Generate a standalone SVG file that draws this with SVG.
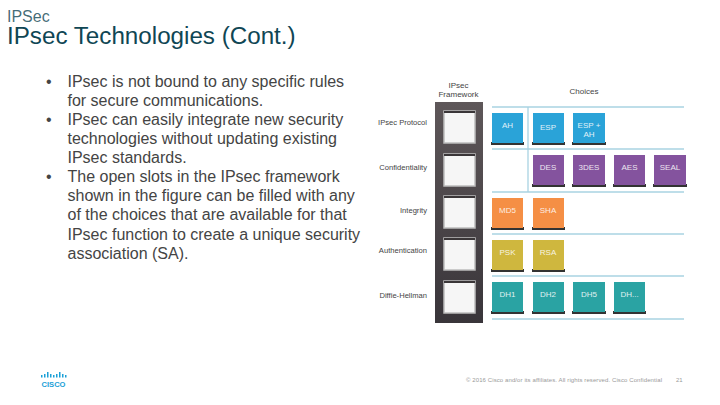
<svg xmlns="http://www.w3.org/2000/svg" width="720" height="405" viewBox="0 0 720 405">
<style>
text{font-family:"Liberation Sans",Arial,sans-serif}
.t{fill:#0f4654}
.b{font-size:16px;fill:#444}
.l{font-size:7.6px;fill:#444;text-anchor:end}
.h{font-size:8px;fill:#444;text-anchor:middle}
.c{font-size:8px;fill:#fff;text-anchor:middle;opacity:.85}
.line{stroke:#a9d3e2;stroke-width:1.3;fill:none}
.slot{fill:#f6f6f6;stroke:#bdbdbd;stroke-width:1.500}
.top{fill:#3a3638}
.sh{fill:#333}
.blue{fill:#2aa3d8}.pur{fill:#84539e}.ora{fill:#f58f45}.yel{fill:#cfb73e}.tea{fill:#2aa3a3}
.f{font-size:6px;fill:#9a9a9a}
</style>
<defs>
<linearGradient id="fw" x1="0" y1="0" x2="0" y2="1"><stop offset="0" stop-color="#5e5759"/><stop offset="1" stop-color="#39353a"/></linearGradient>
<g id="slot"><rect class="slot" x="444" y="0" width="31" height="32"/><rect class="top" x="444" y="0" width="31" height="2"/></g>
</defs>
<g id="header">
<text x="7" y="21.500" font-size="16" class="t" fill-opacity=".8">IPSec</text>
<text x="7" y="43.500" font-size="24.200" class="t">IPsec Technologies (Cont.)</text>
</g>
<g id="bullets" class="b">
<text x="46" y="87">•</text><text x="67.500" y="87">IPsec is not bound to any specific rules</text>
<text x="67.500" y="106">for secure communications.</text>
<text x="46" y="125">•</text><text x="67.500" y="125">IPsec can easily integrate new security</text>
<text x="67.500" y="144">technologies without updating existing</text>
<text x="67.500" y="163">IPsec standards.</text>
<text x="46" y="182">•</text><text x="67.500" y="182">The open slots in the IPsec framework</text>
<text x="67.500" y="201">shown in the figure can be filled with any</text>
<text x="67.500" y="220">of the choices that are available for that</text>
<text x="67.500" y="240">IPsec function to create a unique security</text>
<text x="67.500" y="259">association (SA).</text>
</g>
<g id="connectors" class="line">
<path d="M492 107H684M492 149H684M492 192H684M492 234H684M492 276H684M492 319H684M528 107V192"/>
</g>
<g id="framework">
<rect x="435" y="102" width="48" height="221" fill="url(#fw)"/>
<use href="#slot" y="111"/><use href="#slot" y="154"/><use href="#slot" y="196"/><use href="#slot" y="238"/><use href="#slot" y="281"/>
<text class="h" x="458.500" y="88">IPsec</text><text class="h" x="458.500" y="97">Framework</text>
</g>
<g id="choices-title"><text class="h" x="584" y="94">Choices</text></g>
<g id="row-labels">
<text class="l" x="427" y="125">IPsec Protocol</text>
<text class="l" x="427" y="170">Confidentiality</text>
<text class="l" x="427" y="213">Integrity</text>
<text class="l" x="427" y="253">Authentication</text>
<text class="l" x="427" y="298">Diffie-Hellman</text>
</g>
<g id="ah"><rect class="sh" x="491" y="142" width="33" height="3"/><rect class="blue" x="492" y="113" width="31" height="30"/><text class="c" x="507.500" y="128">AH</text></g>
<g id="esp"><rect class="sh" x="532" y="142" width="33" height="3"/><rect class="blue" x="533" y="113" width="31" height="30"/><text class="c" x="548" y="130">ESP</text></g>
<g id="esp-ah"><rect class="sh" x="572" y="142" width="34" height="3"/><rect class="blue" x="573" y="113" width="32" height="30"/><text class="c" x="589" y="128">ESP +</text><text class="c" x="589" y="137">AH</text></g>
<g id="des"><rect class="sh" x="532" y="184" width="33" height="3"/><rect class="pur" x="533" y="155" width="31" height="30"/><text class="c" x="548" y="170">DES</text></g>
<g id="3des"><rect class="sh" x="572" y="184" width="34" height="3"/><rect class="pur" x="573" y="155" width="32" height="30"/><text class="c" x="589" y="170">3DES</text></g>
<g id="aes"><rect class="sh" x="613" y="184" width="33" height="3"/><rect class="pur" x="614" y="155" width="31" height="30"/><text class="c" x="629.500" y="170">AES</text></g>
<g id="seal"><rect class="sh" x="653" y="184" width="34" height="3"/><rect class="pur" x="654" y="155" width="32" height="30"/><text class="c" x="670" y="170">SEAL</text></g>
<g id="md5"><rect class="sh" x="491" y="227" width="33" height="3"/><rect class="ora" x="492" y="198" width="31" height="30"/><text class="c" x="507.500" y="213">MD5</text></g>
<g id="sha"><rect class="sh" x="532" y="227" width="33" height="3"/><rect class="ora" x="533" y="198" width="31" height="30"/><text class="c" x="548" y="213">SHA</text></g>
<g id="psk"><rect class="sh" x="491" y="269" width="33" height="3"/><rect class="yel" x="492" y="240" width="31" height="30"/><text class="c" x="507.500" y="255">PSK</text></g>
<g id="rsa"><rect class="sh" x="532" y="269" width="33" height="3"/><rect class="yel" x="533" y="240" width="31" height="30"/><text class="c" x="548" y="255">RSA</text></g>
<g id="dh1"><rect class="sh" x="491" y="311" width="33" height="3"/><rect class="tea" x="492" y="282" width="31" height="30"/><text class="c" x="507.500" y="297">DH1</text></g>
<g id="dh2"><rect class="sh" x="532" y="311" width="33" height="3"/><rect class="tea" x="533" y="282" width="31" height="30"/><text class="c" x="548" y="297">DH2</text></g>
<g id="dh5"><rect class="sh" x="572" y="311" width="34" height="3"/><rect class="tea" x="573" y="282" width="32" height="30"/><text class="c" x="589" y="297">DH5</text></g>
<g id="dhn"><rect class="sh" x="613" y="311" width="33" height="3"/><rect class="tea" x="614" y="282" width="31" height="30"/><text class="c" x="629.500" y="297">DH...</text></g>
<g id="logo">
<g fill="#1ba0d7"><rect x="41" y="375" width="1.500" height="2.500"/><rect x="44" y="374" width="1.500" height="3.500"/><rect x="47" y="372" width="1.500" height="5.500"/><rect x="50" y="374" width="1.500" height="3.500"/><rect x="53" y="375" width="1.500" height="2.500"/><rect x="56" y="374" width="1.500" height="3.500"/><rect x="59" y="372" width="1.500" height="5.500"/><rect x="62" y="374" width="1.500" height="3.500"/><rect x="65" y="375" width="1.500" height="2.500"/></g>
<text x="53.500" y="386.500" font-size="8" font-weight="bold" fill="#1ba0d7" text-anchor="middle" textLength="24" lengthAdjust="spacingAndGlyphs">CISCO</text>
</g>
<g id="footer">
<text class="f" x="466" y="382" textLength="196" lengthAdjust="spacing">© 2016 Cisco and/or its affiliates. All rights reserved. Cisco Confidential</text>
<text class="f" x="676" y="382">21</text>
</g>
</svg>
